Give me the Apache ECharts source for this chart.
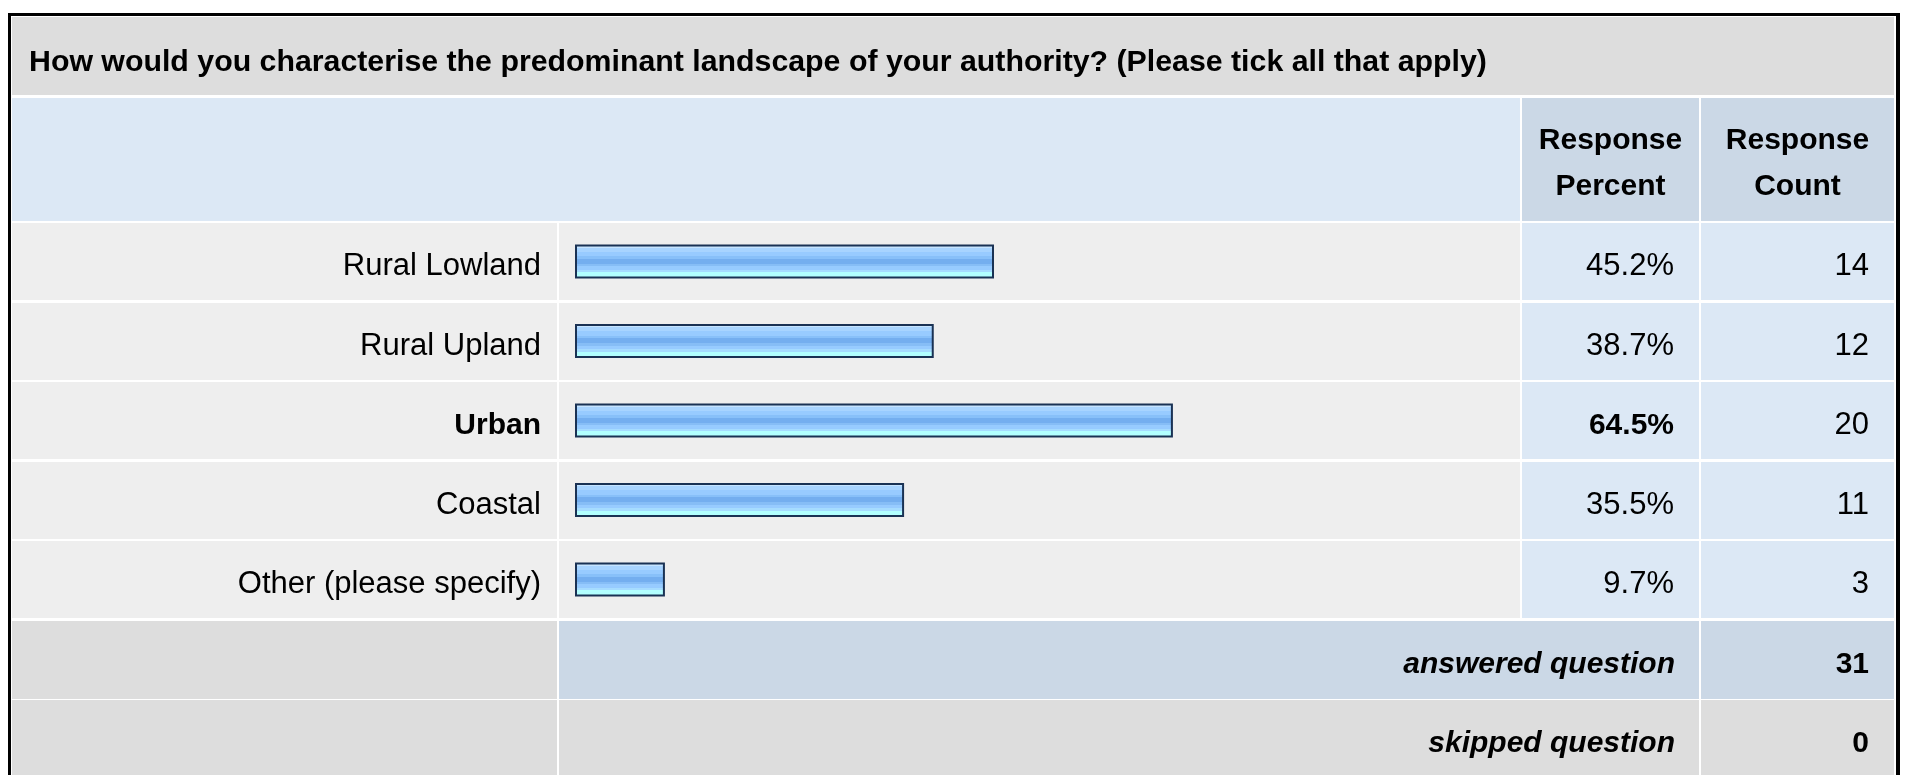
<!DOCTYPE html>
<html>
<head>
<meta charset="utf-8">
<script src="https://cdn.jsdelivr.net/npm/echarts@6/dist/echarts.min.js"></script>
<style>
html,body{margin:0;padding:0;background:#fff;}
#chart{width:1909px;height:775px;}
</style>
</head>
<body>
<div id="chart"></div>
<script>
// ---- data ----
const titleText = 'How would you characterise the predominant landscape of your authority? (Please tick all that apply)';
const categories = ['Rural Lowland', 'Rural Upland', 'Urban', 'Coastal', 'Other (please specify)'];
const percents = [45.2, 38.7, 64.5, 35.5, 9.7];
const counts = [14, 12, 20, 11, 3];
const headerLabels = ['Response\nPercent', 'Response\nCount'];
const footerLabels = ['answered question', 'skipped question'];
const footerValues = [31, 0];

// ---- layout ----
const FONT = '"Liberation Sans", Arial, Helvetica, sans-serif';
const FS = 31, FSB = 30;
const X0 = 12, XLAB = 557, XBAR = 559, XPCT = 1522, XCNT = 1701, X1 = 1894;
const ROW0 = 223, PITCH = 79.5, ROWH = 77;
const DY = 4;
const C_GRAY = '#dddddd', C_ROW = '#eeeeee', C_BLUE = '#dce8f5', C_BLUE2 = '#cbd8e6';
const maxIdx = percents.indexOf(Math.max.apply(null, percents));

const g = [];
function rect(x, y, w, h, fill) {
  g.push({type: 'rect', z: 0, silent: true, shape: {x: x, y: y, width: w, height: h}, style: {fill: fill}});
}
function text(t, x, y, align, weight, style, extra, sizeOverride) {
  const size = sizeOverride || (weight === 'bold' ? FSB : FS);
  const s = Object.assign({
    text: t, x: x, y: y,
    textAlign: align, textVerticalAlign: 'middle', align: align, verticalAlign: 'middle',
    fill: '#000', font: (style || 'normal') + ' ' + (weight || 'normal') + ' ' + size + 'px ' + FONT
  }, extra || {});
  g.push({type: 'text', z: 10, silent: true, style: s});
}

// outer frame
rect(8, 13, 1892, 800, '#000');
rect(11, 16, 1885, 800, '#ffffff');
// title row
rect(X0, 17, X1 - X0, 78, C_GRAY);
text(titleText, 29, 59 + DY, 'left', 'bold', null, null, 30.3);
// header row
rect(X0, 98, XPCT - 2 - X0, 123, C_BLUE);
rect(XPCT, 98, XCNT - 2 - XPCT, 123, C_BLUE2);
rect(XCNT, 98, X1 - XCNT, 123, C_BLUE2);
text(headerLabels[0], (XPCT + XCNT - 2) / 2, 160 + DY, 'center', 'bold', null, {lineHeight: 46});
text(headerLabels[1], (XCNT + X1) / 2, 160 + DY, 'center', 'bold', null, {lineHeight: 46});
// data rows
categories.forEach(function (c, i) {
  const y = Math.round(ROW0 + i * PITCH);
  rect(X0, y, XLAB - X0, ROWH, C_ROW);
  rect(XBAR, y, XPCT - 2 - XBAR, ROWH, C_ROW);
  rect(XPCT, y, XCNT - 2 - XPCT, ROWH, C_BLUE);
  rect(XCNT, y, X1 - XCNT, ROWH, C_BLUE);
});
// footer rows
footerLabels.forEach(function (lab, k) {
  const i = categories.length + k;
  const y = Math.round(ROW0 + i * PITCH);
  const h = k === footerLabels.length - 1 ? 120 : ROWH + 1;
  const col = k === 0 ? C_BLUE2 : C_GRAY;
  rect(X0, y, XLAB - X0, h, C_GRAY);
  rect(XBAR, y, XCNT - 2 - XBAR, h, col);
  rect(XCNT, y, X1 - XCNT, h, col);
  const cy = y + ROWH / 2 + 1 + DY;
  text(lab, 1675, cy, 'right', 'bold', 'italic');
  text(String(footerValues[k]), 1869, cy, 'right', 'bold');
});

const gridLeft = 575, gridWidth = 927;
const gridTop = ROW0 + ROWH / 2 - PITCH / 2;
const gridRight = gridLeft + gridWidth;

function richFmt(arr) {
  return function (v, i) {
    return (i === maxIdx ? '{b|' : '{n|') + arr[i] + '}';
  };
}
const rich = {
  n: {fontFamily: FONT, fontSize: FS, color: '#000', fontWeight: 'normal', padding: [DY * 2 + 2, 0, 0, 0]},
  b: {fontFamily: FONT, fontSize: FSB, color: '#000', fontWeight: 'bold', padding: [DY * 2 + 2, 0, 0, 0]}
};
const hidden = {axisLine: {show: false}, axisTick: {show: false}, splitLine: {show: false}};

const option = {
  animation: false,
  backgroundColor: '#ffffff',
  graphic: {elements: g},
  grid: {left: gridLeft, top: gridTop, width: gridWidth, height: PITCH * categories.length, containLabel: false},
  xAxis: {type: 'value', min: 0, max: 100, show: false},
  yAxis: [
    Object.assign({type: 'category', inverse: true, data: categories, position: 'left',
      axisLabel: {margin: 34, formatter: richFmt(categories), rich: rich}}, hidden),
    Object.assign({type: 'category', inverse: true, data: categories, position: 'right',
      axisLabel: {margin: 1674 - gridRight, align: 'right', rich: rich,
        formatter: richFmt(percents.map(function (p) { return p.toFixed(1) + '%'; }))}}, hidden),
    Object.assign({type: 'category', inverse: true, data: categories, position: 'right',
      axisLabel: {margin: 1869 - gridRight, align: 'right', rich: rich,
        formatter: function (v, i) { return '{n|' + counts[i] + '}'; }}}, hidden)
  ],
  series: [{
    type: 'bar',
    yAxisIndex: 0,
    data: percents,
    barWidth: 34,
    z: 5,
    itemStyle: {
      borderColor: '#1a3254',
      borderWidth: 2,
      color: {
        type: 'linear', x: 0, y: 0, x2: 0, y2: 1,
        colorStops: [
          {offset: 0, color: '#c6e4ff'}, {offset: 0.1, color: '#c6e4ff'},
          {offset: 0.1, color: '#a8d4ff'}, {offset: 0.22, color: '#a8d4ff'},
          {offset: 0.22, color: '#98cbff'}, {offset: 0.34, color: '#98cbff'},
          {offset: 0.34, color: '#88c0f9'}, {offset: 0.42, color: '#88c0f9'},
          {offset: 0.42, color: '#74aeef'}, {offset: 0.56, color: '#74aeef'},
          {offset: 0.56, color: '#86bdf6'}, {offset: 0.64, color: '#86bdf6'},
          {offset: 0.64, color: '#97cbff'}, {offset: 0.74, color: '#97cbff'},
          {offset: 0.74, color: '#a6dcff'}, {offset: 0.82, color: '#a6dcff'},
          {offset: 0.82, color: '#b2ffff'}, {offset: 1, color: '#b2ffff'}
        ]
      }
    }
  }]
};

const chart = echarts.init(document.getElementById('chart'), null, {renderer: 'canvas'});
chart.setOption(option);
</script>
</body>
</html>
